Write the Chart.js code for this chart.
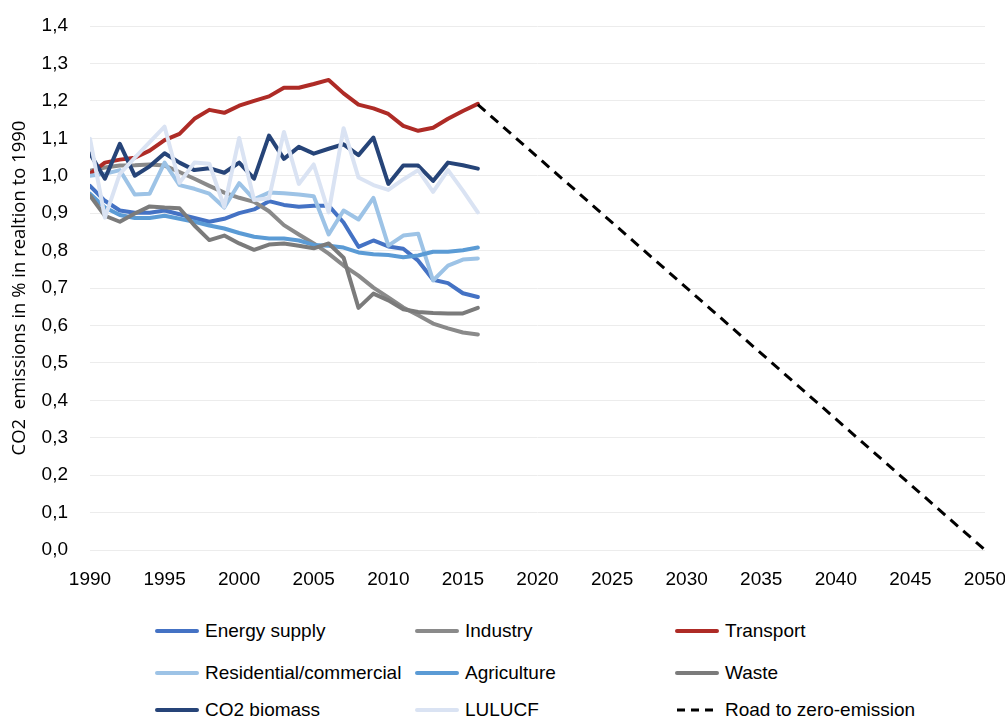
<!DOCTYPE html>
<html>
<head>
<meta charset="utf-8">
<script src="https://cdn.jsdelivr.net/npm/chart.js@4/dist/chart.umd.min.js"></script>
<style>
  body { margin: 0; background: #fff; font-family: "Liberation Sans", Arial, sans-serif; }
  #wrap { position: relative; width: 1005px; height: 720px; overflow: hidden; }
  #box { position: absolute; left: 0; top: 0; width: 1005px; height: 600px; }
  .item { position: absolute; display: flex; align-items: center; font-size: 19px; color: #000; white-space: nowrap; }
  .item svg { margin-right: 6px; }
</style>
</head>
<body>
<div id="wrap">
  <div id="box"><canvas id="emissionsChart"></canvas></div>
  <div id="legend"></div>
</div>
<script>
// Data (index 1990 = 1,0 roughly)
const years = [1990, 1991, 1992, 1993, 1994, 1995, 1996, 1997, 1998, 1999, 2000, 2001, 2002, 2003,
    2004, 2005, 2006, 2007, 2008, 2009, 2010, 2011, 2012, 2013, 2014, 2015, 2016];

const energySupply = [0.973, 0.933, 0.907, 0.901, 0.901, 0.907, 0.897, 0.887, 0.877, 0.885, 0.900, 0.910, 0.932, 0.922,
    0.917, 0.920, 0.920, 0.875, 0.810, 0.827, 0.811, 0.805, 0.773, 0.722, 0.713, 0.686, 0.676];
const industry = [1.013, 1.022, 1.027, 1.028, 1.030, 1.027, 1.010, 0.992, 0.973, 0.955, 0.941, 0.930, 0.905, 0.868,
    0.843, 0.819, 0.792, 0.760, 0.733, 0.701, 0.675, 0.648, 0.627, 0.605, 0.592, 0.581, 0.576];
const transport = [1.005, 1.035, 1.043, 1.048, 1.067, 1.095, 1.112, 1.152, 1.176, 1.168, 1.187, 1.200, 1.212, 1.235,
    1.235, 1.245, 1.256, 1.220, 1.190, 1.180, 1.165, 1.133, 1.120, 1.128, 1.152, 1.173, 1.192];
const residential = [1.000, 1.005, 1.015, 0.950, 0.952, 1.035, 0.975, 0.965, 0.952, 0.915, 0.980, 0.937, 0.955, 0.953,
    0.950, 0.945, 0.843, 0.907, 0.883, 0.941, 0.813, 0.840, 0.845, 0.720, 0.760, 0.776, 0.779];
const agriculture = [0.952, 0.915, 0.895, 0.887, 0.887, 0.893, 0.885, 0.877, 0.867, 0.859, 0.847, 0.837, 0.832, 0.832,
    0.827, 0.815, 0.813, 0.808, 0.795, 0.790, 0.788, 0.782, 0.787, 0.797, 0.797, 0.801, 0.808];
const waste = [0.947, 0.893, 0.877, 0.899, 0.918, 0.915, 0.913, 0.867, 0.828, 0.840, 0.819, 0.802, 0.816, 0.819,
    0.813, 0.806, 0.819, 0.781, 0.647, 0.685, 0.667, 0.643, 0.636, 0.633, 0.632, 0.632, 0.647];
const co2Biomass = [1.059, 0.992, 1.085, 1.000, 1.025, 1.060, 1.035, 1.015, 1.020, 1.008, 1.035, 0.992, 1.107, 1.045,
    1.077, 1.059, 1.072, 1.084, 1.055, 1.102, 0.978, 1.027, 1.027, 0.986, 1.035, 1.028, 1.019];
const lulucf = [1.099, 0.888, 1.005, 1.048, 1.090, 1.131, 0.981, 1.035, 1.032, 0.917, 1.101, 0.935, 0.940, 1.117,
    0.978, 1.030, 0.902, 1.127, 0.995, 0.975, 0.962, 0.990, 1.015, 0.957, 1.015, 0.960, 0.902];

const roadYears = [2016, 2050];
const roadValues = [1.19, 0];

const yTicks = [0, 0.1, 0.2, 0.3, 0.4, 0.5, 0.6, 0.7, 0.8, 0.9, 1.0, 1.1, 1.2, 1.3, 1.4];

function points(xs, ys) {
    return xs.map((x, i) => ({ x: x, y: ys[i] }));
}

const series = [
    { label: 'Energy supply', data: energySupply, color: '#4472C4' },
    { label: 'Industry', data: industry, color: '#8A8A8A' },
    { label: 'Transport', data: transport, color: '#AE2B26' },
    { label: 'Residential/commercial', data: residential, color: '#9DC3E6' },
    { label: 'Agriculture', data: agriculture, color: '#5B9BD5' },
    { label: 'Waste', data: waste, color: '#7B7B7B' },
    { label: 'CO2 biomass', data: co2Biomass, color: '#264478' },
    { label: 'LULUCF', data: lulucf, color: '#DAE3F3' }
];

const datasets = series.map((s, i) => ({
    label: s.label,
    data: points(years, s.data),
    borderColor: s.color,
    backgroundColor: s.color,
    borderWidth: 4,
    pointRadius: 0,
    borderJoinStyle: 'round',
    borderCapStyle: 'round',
    order: 20 - i
}));
datasets.push({
    label: 'Road to zero-emission',
    data: points(roadYears, roadValues),
    borderColor: '#000',
    backgroundColor: '#000',
    borderWidth: 3,
    borderDash: [10, 7],
    pointRadius: 0,
    order: 1
});

const ctx = document.getElementById('emissionsChart').getContext('2d');
const chart = new Chart(ctx, {
    type: 'line',
    data: { datasets: datasets },
    options: {
        responsive: true,
        maintainAspectRatio: false,
        animation: false,
        layout: { padding: { top: 26, right: 20, bottom: 10, left: 0 } },
        plugins: { legend: { display: false }, tooltip: { enabled: false } },
        scales: {
            x: {
                type: 'linear',
                min: 1990,
                max: 2050,
                grid: { display: false },
                border: { display: false },
                afterFit: scale => {
                    scale.height = 40;
                    scale.paddingLeft = 0;
                    scale.paddingRight = 0;
                },
                ticks: {
                    stepSize: 5,
                    padding: 10,
                    maxRotation: 0,
                    color: '#000',
                    font: { family: 'Liberation Sans', size: 19 },
                    callback: v => String(v)
                }
            },
            y: {
                min: 0,
                max: 1.4,
                afterBuildTicks: scale => { scale.ticks = yTicks.map(v => ({ value: v })); },
                afterFit: scale => {
                    scale.width = 90;
                    scale.paddingTop = 0;
                    scale.paddingBottom = 0;
                },
                grid: { color: '#ececec', lineWidth: 1, drawTicks: false },
                border: { display: false },
                ticks: {
                    padding: 22,
                    color: '#000',
                    font: { family: 'Liberation Sans', size: 19 },
                    callback: v => v.toFixed(1).replace('.', ',')
                },
                title: {
                    display: true,
                    text: 'CO2  emissions in % in realtion to 1990',
                    color: '#000',
                    font: { family: 'Open Sans', size: 18.5 },
                    padding: { top: 9, bottom: 0 }
                }
            }
        }
    }
});

// legend laid out in three columns like the original
const legendCols = [155, 415, 675];
const legendRows = [631, 673, 710];
const legend = document.getElementById('legend');
chart.data.datasets.forEach((ds, i) => {
    const item = document.createElement('div');
    item.className = 'item';
    const col = legendCols[i % 3];
    const row = legendRows[Math.floor(i / 3)];
    item.style.left = col + 'px';
    item.style.top = (row - 12) + 'px';
    item.style.height = '24px';
    const dash = ds.borderDash ? 'stroke-dasharray="8 6"' : '';
    const w = ds.borderDash ? 3 : 4;
    const cap = ds.borderDash ? 'butt' : 'round';
    item.innerHTML = '<svg width="44" height="10"><line x1="2" y1="5" x2="42" y2="5" stroke="' + ds.borderColor +
        '" stroke-width="' + w + '" stroke-linecap="' + cap + '" ' + dash + '/></svg><span>' + ds.label + '</span>';
    legend.appendChild(item);
});
</script>
</body>
</html>
